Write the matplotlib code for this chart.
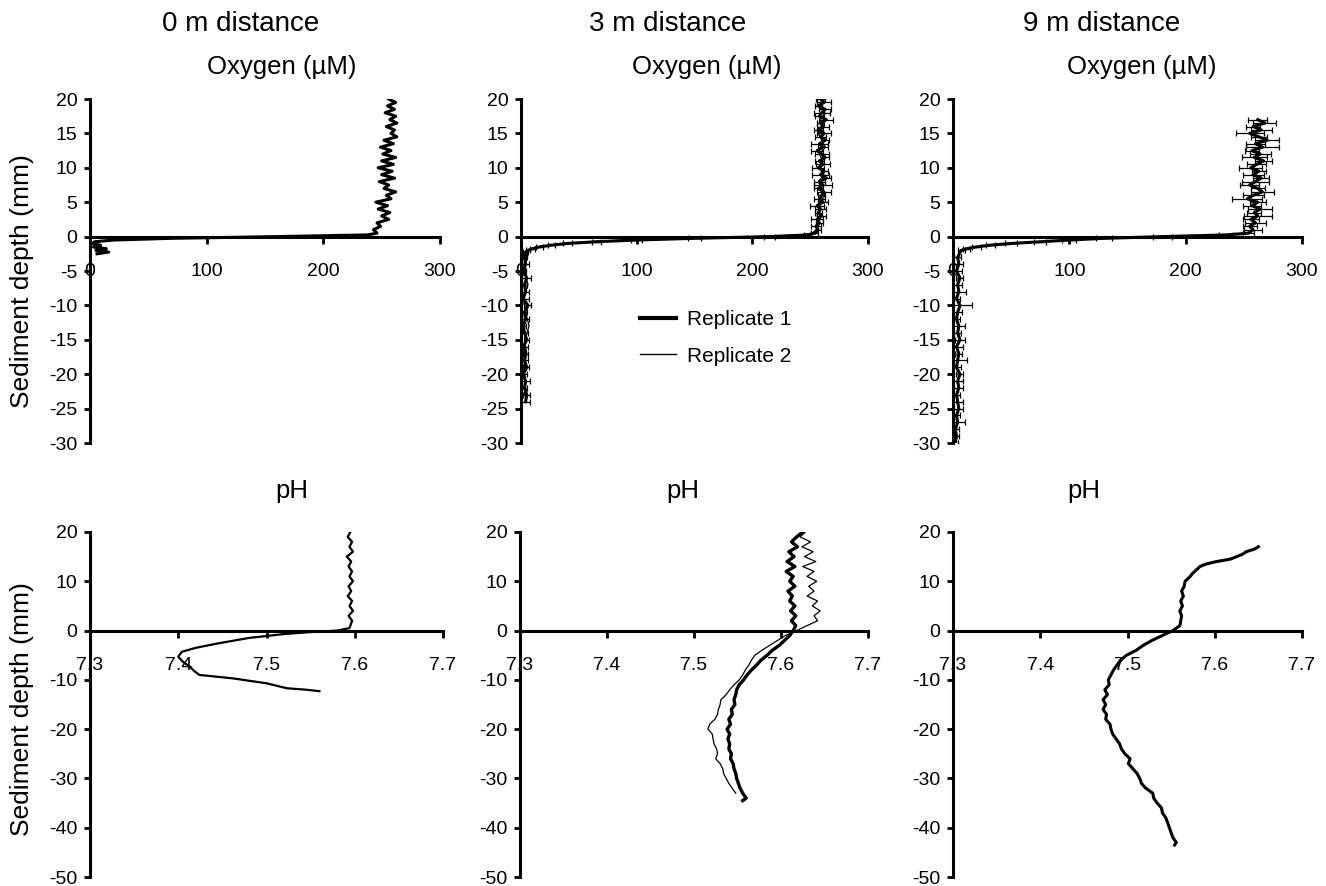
import matplotlib.pyplot as plt
from matplotlib.lines import Line2D

plt.rcParams['font.family'] = ['Liberation Sans', 'DejaVu Sans']
plt.rcParams['axes.unicode_minus'] = False

# ---------------- Oxygen profiles (uM) ----------------
# 0 m distance, replicate 1
o2_0m_depth = [20.0, 19.5, 19.0, 18.5, 18.0, 17.5, 17.0, 16.5, 16.0, 15.5,
               15.0, 14.5, 14.0, 13.5, 13.0, 12.5, 12.0, 11.5, 11.0, 10.5,
               10.0, 9.5, 9.0, 8.5, 8.0, 7.5, 7.0, 6.5, 6.0, 5.5,
               5.0, 4.5, 4.0, 3.5, 3.0, 2.5, 2.0, 1.5, 1.0, 0.5,
               0.25, 0.0, -0.25, -0.5, -0.75, -1.0, -1.25, -1.5, -1.75, -2.0, -2.25, -2.5]
o2_0m = [256, 262, 255, 261, 253, 262, 257, 263, 254, 261,
         258, 263, 252, 260, 249, 258, 251, 262, 250, 260,
         247, 259, 250, 261, 248, 256, 252, 262, 254, 258,
         245, 255, 247, 257, 250, 256, 246, 249, 243, 246,
         238, 160, 70, 20, 4, 2, 9, 3, 14, 5, 16, 6]

# 3 m distance, replicate 1 (with sd)
o2_3m_depth = [20.0, 19.5, 19.0, 18.5, 18.0, 17.5, 17.0, 16.5, 16.0, 15.5,
               15.0, 14.5, 14.0, 13.5, 13.0, 12.5, 12.0, 11.5, 11.0, 10.5,
               10.0, 9.5, 9.0, 8.5, 8.0, 7.5, 7.0, 6.5, 6.0, 5.5,
               5.0, 4.5, 4.0, 3.5, 3.0, 2.5, 2.0, 1.5, 1.0, 0.5,
               0.25, 0.0, -0.25, -0.5, -0.75, -1.0, -1.25, -1.5, -1.75, -2.0, -2.25, -2.5,
               -3, -4, -5, -6, -7, -8, -9, -10, -11, -12, -13,
               -14, -15, -16, -17, -18, -19, -20, -21, -22, -23, -24]
o2_3m = [259, 262, 257, 263, 260, 258, 264, 259, 261, 257,
         262, 259, 263, 258, 261, 256, 260, 263, 258, 261,
         257, 262, 259, 264, 258, 261, 257, 262, 260, 258,
         261, 256, 259, 257, 260, 256, 258, 255, 257, 254,
         248, 215, 150, 100, 65, 40, 26, 16, 10, 6, 4, 3,
         3, 4, 2, 5, 3, 4, 2, 6, 3, 4, 2,
         3, 5, 2, 4, 3, 5, 2, 4, 3, 5, 4]
o2_3m_sd = [4, 6, 3, 5, 7, 4, 6, 3, 5, 4,
            6, 5, 3, 7, 4, 5, 6, 3, 4, 6,
            5, 3, 7, 4, 5, 8, 4, 6, 3, 5,
            4, 6, 5, 3, 4, 5, 3, 4, 2, 3,
            3, 5, 6, 5, 4, 4, 3, 3, 2, 2, 2, 2,
            2, 3, 2, 4, 2, 3, 5, 3, 2, 3, 2,
            3, 2, 4, 2, 3, 2, 3, 4, 2, 3, 4]

# 3 m distance, replicate 2
o2_3m_r2_depth = [20, 19, 18, 17, 16, 15, 14, 13, 12, 11,
                  10, 9, 8, 7, 6, 5, 4, 3, 2, 1,
                  0.5, 0.25, 0.0, -0.25, -0.5, -0.75, -1.0, -1.5, -2.0, -2.5,
                  -3, -5, -7, -9, -11, -13, -15, -17, -19, -21, -23]
o2_3m_r2 = [261, 258, 263, 259, 262, 257, 260, 263, 258, 261,
            259, 262, 257, 260, 263, 258, 259, 256, 258, 255,
            252, 243, 205, 135, 88, 58, 36, 14, 6, 4,
            5, 3, 6, 2, 4, 7, 3, 5, 2, 4, 3]

# 9 m distance, replicate 1 (with sd)
o2_9m_depth = [17.0, 16.5, 16.0, 15.5, 15.0, 14.5, 14.0, 13.5, 13.0, 12.5,
               12.0, 11.5, 11.0, 10.5, 10.0, 9.5, 9.0, 8.5, 8.0, 7.5,
               7.0, 6.5, 6.0, 5.5, 5.0, 4.5, 4.0, 3.5, 3.0, 2.5,
               2.0, 1.5, 1.0, 0.5,
               0.25, 0.0, -0.25, -0.5, -0.75, -1.0, -1.25, -1.5, -1.75, -2.0,
               -3, -4, -5, -6, -7, -8, -9, -10, -11, -12,
               -13, -14, -15, -16, -17, -18, -19, -20, -21, -22,
               -23, -24, -25, -26, -27, -28, -29, -30]
o2_9m = [262, 268, 258, 265, 255, 263, 270, 260, 266, 257,
         264, 259, 267, 261, 256, 263, 258, 265, 260, 255,
         262, 266, 258, 253, 262, 257, 264, 259, 262, 256,
         260, 255, 258, 254,
         235, 180, 130, 100, 75, 50, 32, 20, 12, 7,
         4, 5, 3, 6, 4, 5, 3, 6, 4, 3,
         5, 4, 6, 3, 5, 4, 3, 6, 4, 5,
         3, 4, 5, 3, 4, 2, 3, 2]
o2_9m_sd = [8, 10, 6, 9, 12, 7, 10, 8, 14, 6,
            9, 11, 7, 8, 10, 6, 9, 7, 12, 8,
            6, 10, 9, 13, 7, 8, 10, 6, 12, 7,
            9, 6, 8, 5,
            6, 8, 7, 6, 5, 5, 4, 4, 3, 3,
            3, 4, 5, 3, 4, 6, 3, 10, 4, 3,
            5, 3, 4, 6, 3, 8, 4, 3, 5, 4,
            3, 5, 4, 3, 6, 3, 2, 2]

# ---------------- pH profiles ----------------
ph_0m_depth = [20, 19, 18, 17, 16, 15, 14, 13, 12, 11,
               10, 9, 8, 7, 6, 5, 4, 3, 2, 1, 0.5, 0.0,
               -0.3, -0.7, -1.5, -2.6, -3.5, -4.3, -5.3, -6.3, -7.3, -8.2,
               -9.0, -9.7, -10.7, -11.7, -12.0, -12.3]
ph_0m = [7.595, 7.592, 7.597, 7.594, 7.598, 7.591, 7.596, 7.593, 7.597, 7.594,
         7.598, 7.593, 7.596, 7.592, 7.597, 7.594, 7.598, 7.593, 7.597, 7.595, 7.594, 7.580,
         7.550, 7.520, 7.480, 7.445, 7.420, 7.404, 7.400, 7.405, 7.413, 7.418,
         7.424, 7.462, 7.500, 7.523, 7.545, 7.560]

ph_3m_depth = [20, 19, 18, 17, 16, 15, 14, 13, 12, 11,
               10, 9, 8, 7, 6, 5, 4, 3, 2, 1, 0,
               -1, -2, -3, -4, -5, -6, -7, -8, -9, -10,
               -11, -12, -13, -14, -15, -16, -17, -18, -19, -20,
               -21, -22, -23, -24, -25, -26, -27, -28, -29, -30,
               -31, -32, -33, -34, -34.5]
ph_3m = [7.625, 7.618, 7.612, 7.619, 7.609, 7.615, 7.607, 7.616, 7.606, 7.614,
         7.610, 7.616, 7.608, 7.613, 7.610, 7.616, 7.611, 7.617, 7.612, 7.617, 7.614,
         7.610, 7.604, 7.598, 7.590, 7.584, 7.577, 7.572, 7.566, 7.561, 7.557,
         7.552, 7.549, 7.548, 7.546, 7.547, 7.543, 7.544, 7.540, 7.542, 7.538,
         7.541, 7.539, 7.541, 7.540, 7.543, 7.542, 7.545, 7.546, 7.548, 7.549,
         7.551, 7.553, 7.556, 7.560, 7.556]

ph_3m_r2_depth = [20, 19, 18, 17, 16, 15, 14, 13, 12, 11,
                  10, 9, 8, 7, 6, 5, 4, 3, 2, 1, 0,
                  -1, -2, -3, -4, -5, -6, -7, -8, -9, -10,
                  -11, -12, -13, -14, -15, -16, -17, -18, -19, -20,
                  -21, -22, -23, -24, -25, -26, -27, -28, -29, -30,
                  -31, -32, -33]
ph_3m_r2 = [7.628, 7.622, 7.634, 7.624, 7.637, 7.627, 7.640, 7.625, 7.638, 7.630,
            7.641, 7.632, 7.638, 7.630, 7.642, 7.636, 7.645, 7.638, 7.642, 7.630, 7.618,
            7.605, 7.596, 7.587, 7.578, 7.570, 7.566, 7.563, 7.559, 7.556, 7.552,
            7.546, 7.541, 7.537, 7.531, 7.530, 7.528, 7.527, 7.524, 7.518, 7.516,
            7.521, 7.522, 7.523, 7.526, 7.527, 7.525, 7.530, 7.533, 7.534, 7.537,
            7.540, 7.544, 7.548]

ph_9m_depth = [17, 16.5, 16, 15.5, 15, 14.5, 14, 13.5, 13, 12.5, 12, 11.5, 11,
               10, 9, 8, 7, 6, 5, 4, 3, 2, 1, 0,
               -1, -2, -3, -4, -5, -6, -7, -8, -9, -10,
               -11, -12, -13, -14, -15, -16, -17, -18, -19, -20,
               -21, -22, -23, -24, -25, -26, -27, -28, -29, -30,
               -31, -32, -33, -34, -35, -36, -37, -38, -39, -40,
               -41, -42, -43, -43.5]
ph_9m = [7.650, 7.645, 7.636, 7.632, 7.625, 7.618, 7.602, 7.590, 7.583, 7.580, 7.577, 7.574, 7.572,
         7.566, 7.565, 7.562, 7.564, 7.561, 7.563, 7.560, 7.562, 7.561, 7.560, 7.552,
         7.540, 7.528, 7.518, 7.510, 7.499, 7.492, 7.488, 7.484, 7.481, 7.478,
         7.479, 7.474, 7.477, 7.472, 7.475, 7.472, 7.476, 7.475, 7.480, 7.481,
         7.483, 7.487, 7.491, 7.493, 7.497, 7.503, 7.501, 7.506, 7.511, 7.514,
         7.516, 7.521, 7.529, 7.530, 7.534, 7.539, 7.540, 7.544, 7.546, 7.548,
         7.550, 7.552, 7.556, 7.554]

col_titles = ['0 m distance', '3 m distance', '9 m distance']
o2_ticks = [0, 100, 200, 300]
ph_ticks = [7.3, 7.4, 7.5, 7.6, 7.7]
ph_ticklabels = ['7.3', '7.4', '7.5', '7.6', '7.7']

W, H = 1326, 886
fig = plt.figure(figsize=(W / 100, H / 100), dpi=100)


def px_axes(x0, x1, ytop, ybot):
    return fig.add_axes([x0 / W, 1 - ybot / H, (x1 - x0) / W, (ybot - ytop) / H])


def style(ax, xlim, ylim, xticks, xlabels, yticks):
    ax.set_xlim(*xlim)
    ax.set_ylim(*ylim)
    ax.spines['top'].set_visible(False)
    ax.spines['right'].set_visible(False)
    ax.spines['left'].set_position(('data', xlim[0]))
    ax.spines['bottom'].set_position(('data', 0))
    for s in ['left', 'bottom']:
        ax.spines[s].set_linewidth(2.2)
    ax.set_xticks(xticks)
    ax.set_xticklabels(xlabels)
    ax.set_yticks(yticks)
    ax.tick_params(axis='x', direction='out', length=5, width=2, pad=14, labelsize=14)
    ax.tick_params(axis='y', direction='out', length=4, width=2, pad=5, labelsize=14)
    ax.patch.set_visible(False)


cols_top = [(90, 440), (521, 868), (953, 1302)]
cols_bot = [(90, 443), (520, 868), (953, 1302)]

top_axes = [px_axes(x0, x1, 99, 443) for x0, x1 in cols_top]
bot_axes = [px_axes(x0, x1, 532, 877) for x0, x1 in cols_bot]

for ax in top_axes:
    style(ax, (0, 300), (-30, 20), o2_ticks, [str(t) for t in o2_ticks], [20, 15, 10, 5, 0, -5, -10, -15, -20, -25, -30])
for ax in bot_axes:
    style(ax, (7.3, 7.7), (-50, 20), ph_ticks, ph_ticklabels, [20, 10, 0, -10, -20, -30, -40, -50])

eb = dict(color='black', lw=2.2, elinewidth=0.9, capsize=2.5, capthick=0.9)

# oxygen
top_axes[0].plot(o2_0m, o2_0m_depth, color='black', lw=2.2)
top_axes[1].errorbar(o2_3m, o2_3m_depth, xerr=o2_3m_sd, **eb)
top_axes[1].plot(o2_3m_r2, o2_3m_r2_depth, color='black', lw=0.9)
top_axes[2].errorbar(o2_9m, o2_9m_depth, xerr=o2_9m_sd, **eb)

# pH
bot_axes[0].plot(ph_0m, ph_0m_depth, color='black', lw=1.6)
bot_axes[1].plot(ph_3m, ph_3m_depth, color='black', lw=2.4)
bot_axes[1].plot(ph_3m_r2, ph_3m_r2_depth, color='black', lw=0.9)
bot_axes[2].plot(ph_9m, ph_9m_depth, color='black', lw=2.2)

# legend
handles = [Line2D([], [], color='black', lw=3), Line2D([], [], color='black', lw=1)]
top_axes[1].legend(handles, ['Replicate 1', 'Replicate 2'], frameon=False,
                   loc='upper left', bbox_to_anchor=(640 / W, 1 - 310 / H),
                   bbox_transform=fig.transFigure, fontsize=15, handlelength=1.75,
                   handletextpad=0.5, labelspacing=0.85, borderpad=0, borderaxespad=0)

# titles
for title, x in zip(col_titles, [241, 668, 1102]):
    fig.text(x / W, 1 - 31 / H, title, ha='center', va='baseline', fontsize=20)
for x in [282, 707, 1142]:
    fig.text(x / W, 1 - 74 / H, 'Oxygen (\u00b5M)', ha='center', va='baseline', fontsize=18.5)
for x in [292, 683, 1084]:
    fig.text(x / W, 1 - 498 / H, 'pH', ha='center', va='baseline', fontsize=18.5)

for y in [281, 709]:
    fig.text(22 / W, 1 - y / H, 'Sediment depth (mm)', rotation=90, ha='center', va='center', fontsize=19)

fig.savefig('out.png', dpi=100)
